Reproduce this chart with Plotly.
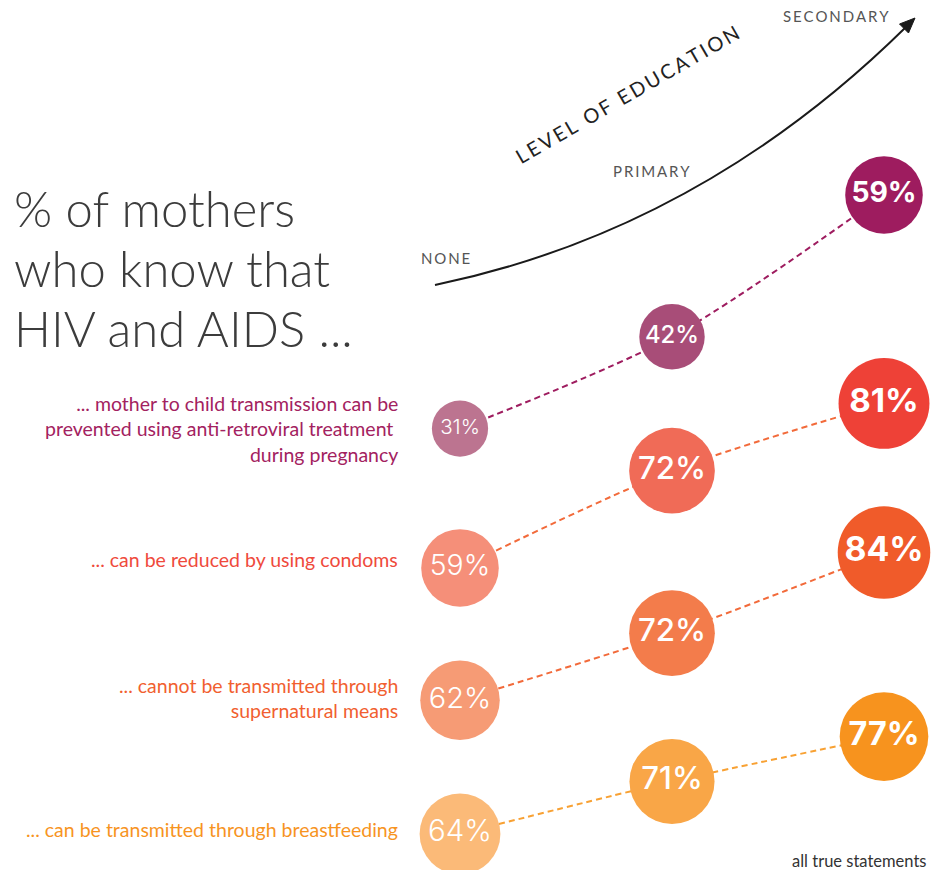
import numpy as np
import plotly.graph_objects as go

# ---------------- data ----------------
levels = [0, 1, 2]                      # None, Primary, Secondary
level_labels = ["NONE", "PRIMARY", "SECONDARY"]
statements = [
    "... mother to child transmission can be<br>prevented using anti-retroviral treatment <br>during pregnancy",
    "... can be reduced by using condoms",
    "... cannot be transmitted through<br>supernatural means",
    "... can be transmitted through breastfeeding",
]
mtct_art = [31, 42, 59]
condoms = [59, 72, 81]
supernatural = [62, 72, 84]
breastfeeding = [64, 71, 77]
series = [mtct_art, condoms, supernatural, breastfeeding]

# ---------------- styles ----------------
W, H = 935, 870
circle_colors = [
    ["#bc7490", "#a84d78", "#9e1c5f"],
    ["#f58f79", "#f06b57", "#ee4137"],
    ["#f69b75", "#f37c4b", "#f05b2a"],
    ["#fbba78", "#f9a647", "#f7931e"],
]
line_colors = ["#9e1c5f", "#f26a3a", "#f26a3a", "#f8a133"]
label_colors = ["#a3225f", "#ef4a3c", "#f15f30", "#f7941f"]
num_weights = [300, 500, 700]
row_ranges = [[-21.90, 82.37], [18.62, 134.93], [36.72, 166.30], [59.18, 175.37]]
label_y = [428.5, 559, 697.5, 829]
FONT = "Lato"
NUM_FONT = "Inter"


def P(x, y):
    return x / W, 1 - y / H


fig = go.Figure()
yax_names = ["y", "y2", "y3", "y4"]

for r, vals in enumerate(series):
    ya = yax_names[r]
    fig.add_trace(go.Scatter(
        x=levels, y=vals, mode="lines", yaxis=ya, hoverinfo="skip",
        line=dict(color=line_colors[r], width=2, dash="6px,4px", shape="spline", smoothing=0.8),
        showlegend=False))
    for c, v in enumerate(vals):
        d = 10.1 * np.sqrt(v)
        fig.add_trace(go.Scatter(
            x=[levels[c]], y=[v], mode="markers+text", yaxis=ya, cliponaxis=False,
            marker=dict(size=d, color=circle_colors[r][c], line=dict(width=0)),
            text=[f"{v}%"], textposition="middle center",
            textfont=dict(family=NUM_FONT, size=0.365 * d, color="white", weight=num_weights[c]),
            showlegend=False, hoverinfo="skip"))

annotations = []
# title
title_lines = ["% of mothers", "who know that", "HIV and AIDS ..."]
for i, t in enumerate(title_lines):
    x, y = P(12, 208 + 60 * i)
    annotations.append(dict(x=x, y=y, xref="paper", yref="paper", text=t, showarrow=False,
                            xanchor="left", yanchor="middle",
                            font=dict(family=FONT, size=49, color="#3c3c3c", weight=300)))
# statement labels
for r, s in enumerate(statements):
    x, y = P(400, label_y[r])
    annotations.append(dict(x=x, y=y, xref="paper", yref="paper", text=s, showarrow=False,
                            xanchor="right", yanchor="middle", align="right",
                            font=dict(family=FONT, size=19.5, color=label_colors[r])))
# education level labels
sp = "\u2009"
for (px, py), t in zip([(445, 258), (651, 171), (836, 16)], level_labels):
    x, y = P(px, py)
    annotations.append(dict(x=x, y=y, xref="paper", yref="paper", text=sp.join(t), showarrow=False,
                            xanchor="center", yanchor="middle",
                            font=dict(family=FONT, size=15, color="#555555")))
x, y = P(627, 94)
annotations.append(dict(x=x, y=y, xref="paper", yref="paper",
                        text="\u2009".join("LEVEL OF EDUCATION"), showarrow=False,
                        textangle=-30, xanchor="center", yanchor="middle",
                        font=dict(family=FONT, size=20, color="#222222")))
x, y = P(928, 861)
annotations.append(dict(x=x, y=y, xref="paper", yref="paper", text="all true statements",
                        showarrow=False, xanchor="right", yanchor="middle",
                        font=dict(family=FONT, size=16.5, color="#333333")))

# arrow
x0, y0 = P(435, 285)
x1, y1 = P(700, 230)
x2, y2 = P(906, 27)
tip = P(915, 18)
b1 = P(908.5, 33)
b2 = P(899.5, 24)
shapes = [
    dict(type="path", xref="paper", yref="paper",
         path=f"M {x0},{y0} Q {x1},{y1} {x2},{y2}",
         line=dict(color="#1a1a1a", width=2)),
    dict(type="path", xref="paper", yref="paper",
         path=f"M {tip[0]},{tip[1]} L {b1[0]},{b1[1]} L {b2[0]},{b2[1]} Z",
         fillcolor="#1a1a1a", line=dict(color="#1a1a1a", width=1)),
]

axis_off = dict(visible=False, showgrid=False, zeroline=False, fixedrange=True)
layout_axes = dict(
    xaxis=dict(range=[-460 / 212, 475 / 212], domain=[0, 1], **axis_off),
    yaxis=dict(range=row_ranges[0], domain=[0, 1], **axis_off),
    yaxis2=dict(range=row_ranges[1], overlaying="y", **axis_off),
    yaxis3=dict(range=row_ranges[2], overlaying="y", **axis_off),
    yaxis4=dict(range=row_ranges[3], overlaying="y", **axis_off),
)

fig.update_layout(
    width=W, height=H, margin=dict(l=0, r=0, t=0, b=0),
    paper_bgcolor="white", plot_bgcolor="white",
    annotations=annotations, shapes=shapes, showlegend=False,
    **layout_axes)

fig.write_html(
    "out.html",
    config={"displayModeBar": False, "staticPlot": True},
    post_script="document.body.style.margin='0';document.body.style.overflow='hidden';"
                "document.documentElement.style.overflow='hidden';",
)
